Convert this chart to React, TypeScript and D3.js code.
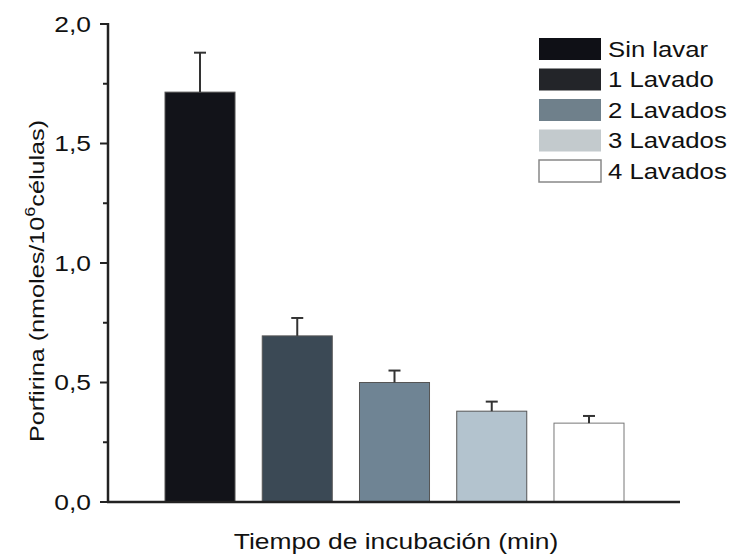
import React from "react";
import * as d3 from "d3";

const categories = ["Sin lavar", "1 Lavado", "2 Lavados", "3 Lavados", "4 Lavados"];
const values = [1.715, 0.695, 0.5, 0.38, 0.33];
const errors = [0.165, 0.075, 0.05, 0.04, 0.03];
const barColors = ["#121319", "#3b4955", "#6f8494", "#b3c3ce", "#ffffff"];
const legendColors = ["#0f1016", "#232529", "#6f808b", "#c3cacd", "#ffffff"];
const yTicks = [0, 0.5, 1.0, 1.5, 2.0];
const yMinorTicks = [0.25, 0.75, 1.25, 1.75];

const W = 735;
const H = 558;
const FONT = "'Liberation Sans', Arial, sans-serif";
const SX = 1.2;

export default function App() {
  const x0 = 108;
  const x1 = 680;
  const yScale = d3.scaleLinear().domain([0, 2]).range([502, 24]);
  const xScale = d3
    .scaleBand<string>()
    .domain(categories)
    .range([165, 624])
    .paddingInner(0.28)
    .paddingOuter(0);
  const bw = xScale.bandwidth();
  const fmt = (v: number) => d3.format(".1f")(v).replace(".", ",");

  return (
    <svg width={W} height={H} style={{ display: "block", position: "absolute", left: 0, top: 0 }}>
      <rect width={W} height={H} fill="#fff" />
      {categories.map((c, i) => {
        const bx = xScale(c)!;
        const top = yScale(values[i]);
        const et = yScale(values[i] + errors[i]);
        const cx = bx + bw / 2;
        return (
          <g key={c}>
            <rect
              x={bx}
              y={top}
              width={bw}
              height={yScale(0) - top}
              fill={barColors[i]}
              stroke={i === 4 ? "#777" : "#555"}
              strokeWidth={1}
            />
            <line x1={cx} x2={cx} y1={top} y2={et} stroke="#333" strokeWidth={2} />
            <line x1={cx - 6} x2={cx + 6} y1={et} y2={et} stroke="#333" strokeWidth={2} />
          </g>
        );
      })}
      {/* axes */}
      <line x1={x0} x2={x0} y1={yScale(2) - 1} y2={yScale(0) + 1} stroke="#222" strokeWidth={2.5} />
      <line x1={x0 - 1} x2={x1} y1={yScale(0)} y2={yScale(0)} stroke="#222" strokeWidth={2.5} />
      {yTicks.map((t) => (
        <g key={t}>
          <line x1={x0 - 8} x2={x0} y1={yScale(t)} y2={yScale(t)} stroke="#222" strokeWidth={2} />
          <text
            transform={`translate(91,${yScale(t)}) scale(${SX},1)`}
            dy="0.36em"
            textAnchor="end"
            fontFamily={FONT}
            fontSize={22}
            fill="#111"
          >
            {fmt(t)}
          </text>
        </g>
      ))}
      {yMinorTicks.map((t) => (
        <line key={t} x1={x0 - 5} x2={x0} y1={yScale(t)} y2={yScale(t)} stroke="#222" strokeWidth={2} />
      ))}
      {/* y title */}
      <text
        transform={`translate(44,281) rotate(-90) scale(${SX},1)`}
        textAnchor="middle"
        fontFamily={FONT}
        fontSize={21}
        fill="#111"
      >
        Porfirina (nmoles/10<tspan dy={-9} fontSize={15}>6</tspan>
        <tspan dy={9}>células)</tspan>
      </text>
      {/* x title */}
      <text
        transform={`translate(396,549) scale(${SX},1)`}
        textAnchor="middle"
        fontFamily={FONT}
        fontSize={22}
        fill="#111"
      >
        Tiempo de incubación (min)
      </text>
      {/* legend */}
      {categories.map((c, i) => {
        const ly = 38 + i * 30.5;
        return (
          <g key={"lg" + c}>
            <rect
              x={539}
              y={ly}
              width={62}
              height={22}
              fill={legendColors[i]}
              stroke={i === 4 ? "#888" : "none"}
              strokeWidth={1.5}
            />
            <text
              transform={`translate(608,${ly + 11}) scale(1.17,1)`}
              dy="0.36em"
              fontFamily={FONT}
              fontSize={22}
              fill="#111"
            >
              {c}
            </text>
          </g>
        );
      })}
    </svg>
  );
}
